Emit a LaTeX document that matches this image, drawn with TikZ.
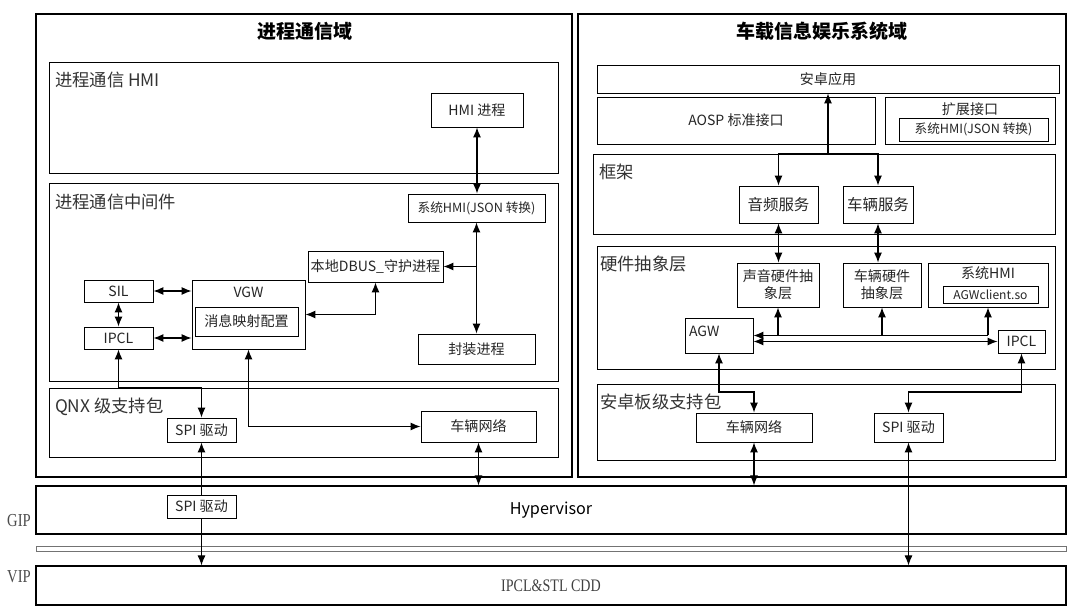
\documentclass[tikz,border=0pt]{standalone}
\usepackage{fontspec}
\setmainfont{Noto Sans CJK SC}
\newfontfamily\narrowserif[FakeStretch=0.8]{Liberation Serif}
\usetikzlibrary{arrows.meta,positioning,fit,shadows}

\tikzset{
  >={Latex[length=2.5mm,width=2mm]},
  zone/.style={draw, line width=0.9pt, inner sep=0pt},
  tier/.style={draw, fill=white, line width=0.7pt, inner sep=0pt,
    drop shadow={shadow xshift=0.7pt, shadow yshift=-0.7pt, fill=black!80, opacity=0.8}},
  blk/.style={draw, fill=white, line width=0.6pt, inner sep=0pt,
    drop shadow={shadow xshift=0.7pt, shadow yshift=-0.7pt, fill=black!80, opacity=0.8}},
  tiertxt/.style={inner sep=0pt, text=black!80, font=\fontsize{12.3}{14}\selectfont},
  boxtxt/.style={inner sep=0pt, align=center, text=black!85, font=\fontsize{10}{12}\selectfont},
  txt/.style={label={[boxtxt]center:{#1}}},
  bigtxt/.style={label={[boxtxt, font=\fontsize{11}{13}\selectfont]center:{#1}}},
  smalltxt/.style={label={[boxtxt, font=\fontsize{9}{11}\selectfont]center:{#1}}},
  ttl/.style={font=\bfseries\fontsize{13.5}{16}\selectfont},
  conn/.style={line width=0.8pt, <->},
  oneway/.style={line width=0.8pt, ->},
}

\begin{document}
\begin{tikzpicture}[x=0.025cm, y=-0.025cm]
  \useasboundingbox (0,0) rectangle (1080,609);

  % two domains
  \node[zone, fit={(36,14) (572,477)}] (domL) {};
  \node[zone, fit={(578,14) (1066,477)}] (domR) {};
  \node[ttl] (domLt) at (305,31) {进程通信域};
  \node[ttl] (domRt) at (822,31) {车载信息娱乐系统域};

  % left domain
  \node[tier, fit={(49,62) (558,173)}] (hmiL) {};
  \node[tiertxt, below right=7.5pt and 4.5pt of hmiL.north west] (hmiLt) {进程通信 HMI};
  \node[blk, fit={(431,93) (523,127)}, txt={HMI 进程}] (hmiP) {};

  \node[tier, fit={(49,183) (558,381)}] (mid) {};
  \node[tiertxt, below right=8pt and 4.5pt of mid.north west] (midt) {进程通信中间件};
  \node[blk, fit={(408,194) (545,222)}, smalltxt={系统HMI(JSON 转换)}] (sysHMI) {};
  \node[blk, fit={(308,251) (443,282)}, txt={本地DBUS\_守护进程}] (dbus) {};
  \node[blk, fit={(84,280) (153,302)}, txt=SIL] (sil) {};
  \node[blk, fit={(192,280) (305,349)}] (vgw) {};
  \node[boxtxt, below=5pt of vgw.north] (vgwt) {VGW};
  \node[blk, fit={(195,307) (298,336)}, txt=消息映射配置] (msgmap) {};
  \node[blk, fit={(84,327) (153,349)}, txt=IPCL] (ipcl) {};
  \node[blk, fit={(418,334) (535,364)}, txt=封装进程] (wrap) {};

  \node[tier, fit={(49,388) (558,457)}] (qnx) {};
  \node[tiertxt, below right=7pt and 4.5pt of qnx.north west] (qnxt) {QNX 级支持包};
  \node[blk, fit={(167,418) (236,442)}, txt={SPI 驱动}] (spiL) {};
  \node[blk, fit={(421,411) (536,442)}, txt=车辆网络] (netL) {};

  % right domain
  \node[blk, fit={(597,65) (1059,93)}, txt=安卓应用] (app) {};
  \node[blk, fit={(597,97) (875,144)}, txt={AOSP 标准接口}] (aosp) {};
  \node[blk, fit={(885,97) (1055,144)}] (ext) {};
  \node[boxtxt, below=4pt of ext.north] (extt) {扩展接口};
  \node[blk, fit={(899,118) (1048,141)}, smalltxt={系统HMI(JSON 转换)}] (extIn) {};

  \node[tier, fit={(593,154) (1055,234)}] (fw) {};
  \node[tiertxt, below right=7.5pt and 4.5pt of fw.north west] (fwt) {框架};
  \node[blk, fit={(739,186) (818,223)}, bigtxt=音频服务] (audio) {};
  \node[blk, fit={(843,186) (913,223)}, bigtxt=车辆服务] (vsvc) {};

  \node[tier, fit={(597,246) (1055,369)}] (hal) {};
  \node[tiertxt, below right=7.5pt and 2.5pt of hal.north west] (halt) {硬件抽象层};
  \node[blk, fit={(737,263) (819,307)}, txt={声音硬件抽\\象层}] (sndHal) {};
  \node[blk, fit={(843,263) (921,307)}, txt={车辆硬件\\抽象层}] (vehHal) {};
  \node[blk, fit={(928,263) (1048,307)}] (sysHmiR) {};
  \node[boxtxt, below=2.5pt of sysHmiR.north] (sysHmiRt) {系统HMI};
  \node[blk, fit={(943,286) (1038,303)},
    label={[boxtxt, font=\fontsize{8.6}{10}\selectfont]center:AGWclient.so}] (agwCli) {};
  \node[blk, fit={(685,318) (753,353)}] (agw) {};
  \node[boxtxt, below right=6pt and 3pt of agw.north west] (agwt) {AGW};
  \node[blk, fit={(998,330) (1045,353)}, txt=IPCL] (ipclR) {};

  \node[tier, fit={(597,384) (1055,460)}] (bsp) {};
  \node[tiertxt, below right=7.5pt and 2.5pt of bsp.north west] (bspt) {安卓板级支持包};
  \node[blk, fit={(696,413) (812,442)}, txt=车辆网络] (netR) {};
  \node[blk, fit={(874,413) (943,442)}, txt={SPI 驱动}] (spiR) {};

  % hypervisor and VIP
  \node[zone, line width=0.8pt, fit={(36,486) (1066,534)},
    label={[font=\fontsize{11.5}{14}\selectfont]center:Hypervisor}] (hyp) {};
  \node[draw=black!55, line width=0.6pt, inner sep=0pt, fit={(36,546) (1066,551)}] (bar) {};
  \node[zone, line width=0.8pt, fit={(36,566) (1066,605)},
    label={[text=black!75, font=\narrowserif\fontsize{12.5}{14}\selectfont]center:IPCL\&STL CDD}] (vip) {};
  \node[text=black!70, font=\narrowserif\fontsize{13}{14}\selectfont] (gipt) at (19,521) {GIP};
  \node[text=black!70, font=\narrowserif\fontsize{13}{14}\selectfont] (vipt) at (19,577) {VIP};

  % left connectors
  \draw[conn] (hmiP.south) -- (hmiP.south |- sysHMI.north);
  \draw[conn] (sysHMI.south) -- (sysHMI.south |- wrap.north);
  \draw[oneway] (sysHMI.south |- dbus.east) -- (dbus.east);
  \draw[conn] (sil.east) -- (sil.east -| vgw.west);
  \draw[conn] (ipcl.east) -- (ipcl.east -| vgw.west);
  \draw[conn] (sil.south) -- (ipcl.north);
  \draw[conn] (vgw.east) -| (dbus.south);
  \draw[conn] (ipcl.south) -- (ipcl.south |- qnx.north) -| (spiL.north);
  \draw[conn] (vgw.south) |- (netL.west);
  \draw[conn] (netL.south) -- (netL.south |- hyp.north);
  \draw[conn] (spiL.south) -- (spiL.south |- vip.north);
  \node[blk, fit={(167,495) (236,518)}, txt={SPI 驱动}] (spiH) {};

  % right connectors
  \coordinate (fwJ) at (app.south |- fw.north);
  \coordinate (bspJ) at (0,392);
  \draw[oneway] (fwJ) -- (app.south);
  \draw[oneway] (fwJ) -| (audio.north);
  \draw[oneway] (fwJ) -| (vsvc.north);
  \draw[conn] (audio.south) -- (audio.south |- sndHal.north);
  \draw[conn] (vsvc.south) -- (vsvc.south |- vehHal.north);
  \draw[oneway] (sysHmiR.south |- agw.east) -- (agw.east);
  \foreach \n in {sndHal, vehHal, sysHmiR}
    \draw[oneway] (\n.south |- agw.east) -- (\n.south);
  \draw[conn] (ipclR.west) -- (ipclR.west -| agw.east);
  \draw[conn] (agw.south) -- (agw.south |- bspJ) -| (netR.north);
  \draw[conn] (ipclR.south) -- (ipclR.south |- bspJ) -| (spiR.north);
  \draw[conn] (netR.south) -- (netR.south |- hyp.north);
  \draw[conn] (spiR.south) -- (spiR.south |- vip.north);
\end{tikzpicture}
\end{document}
